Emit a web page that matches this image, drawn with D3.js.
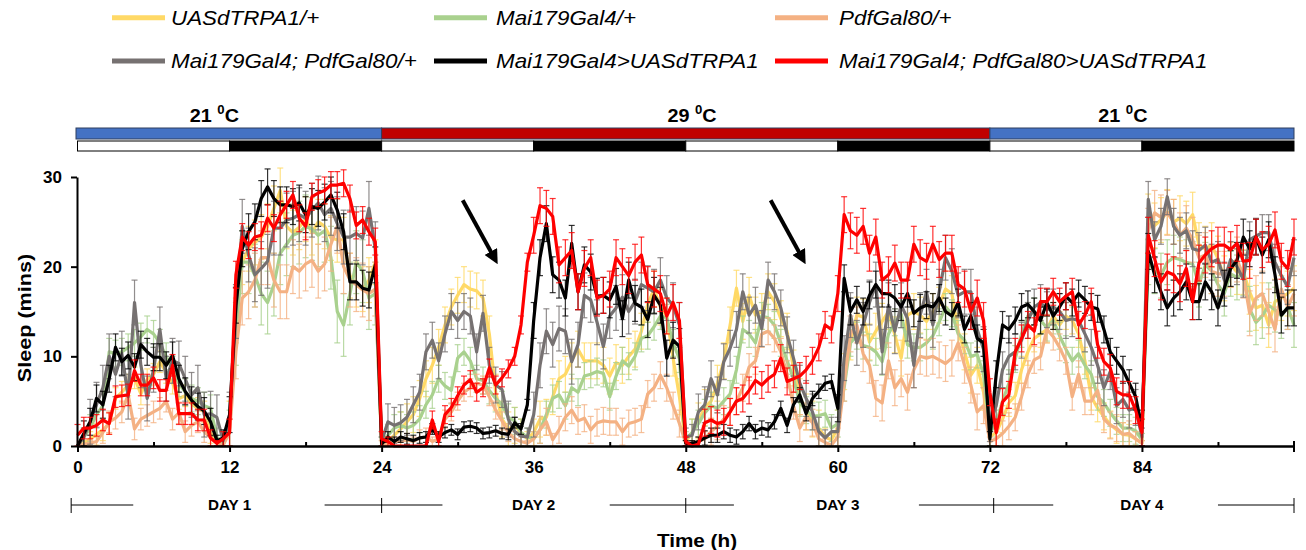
<!DOCTYPE html>
<html><head><meta charset="utf-8">
<script src="https://cdn.jsdelivr.net/npm/d3@7"></script>
<style>
body{margin:0;background:#fff}
svg{display:block}
text{font-family:"Liberation Sans",Arial,sans-serif;fill:#000}
</style>
</head><body>
<svg id="c" width="1306" height="550"></svg>
<script>
// ---------- DATA (sleep in minutes per 30-min bin, t = 0 .. 96 h) ----------
const timeStepH = 0.5;
const seriesNames = ["UASdTRPA1/+","Mai179Gal4/+","PdfGal80/+","Mai179Gal4; PdfGal80/+","Mai179Gal4>UASdTRPA1","Mai179Gal4; PdfGal80>UASdTRPA1"];
const seriesColors = ["#FFD966","#A9D18E","#F4B183","#767171","#000000","#FF0000"];

const uas = [
 0,0.3,0.8,1.3,1.8,2.5,5.3,6.0,6.8,7.6,5.8,7.4,8.0,9.4,8.2,7.0,5.3,5.6,4.7,4.2,3.8,1.5,0.3,0.1,
 2.5,14.0,20.5,22.0,22.7,23.3,24.5,26.5,28.5,24.5,23.8,24.4,25.3,23.8,25.0,24.5,23.2,23.0,23.0,19.0,18.0,17.5,18.5,20.5,
 0,0.5,1.2,1.9,2.7,3.5,5.3,7.5,9.0,11.0,13.5,15.5,16.8,18.0,17.5,17.3,16.5,12.5,6.0,3.0,1.9,2.3,1.5,0.8,
 1.5,3.0,3.2,5.5,7.5,8.0,9.5,10.8,9.5,9.5,9.5,9.0,7.8,9.3,9.0,10.0,10.8,12.8,15.8,17.5,15.5,14.5,9.8,5.5,
 0.5,1.5,2.8,4.3,5.0,7.0,9.5,13.5,17.6,13.9,16.8,14.6,15.0,17.2,16.1,14.2,12.8,8.7,5.5,3.8,3.0,2.0,1.0,0.7,
 2.0,8.3,11.6,14.6,14.4,11.6,12.8,13.9,15.0,12.4,9.8,14.6,15.0,14.6,13.9,15.0,15.7,17.5,17.0,12.8,10.5,7.9,9.0,6.0,
 1.0,1.5,3.0,4.8,5.6,8.5,10.5,12.0,12.5,13.0,14.5,13.5,14.5,14.0,12.5,9.5,5.5,4.2,3.3,2.4,1.8,1.3,1.2,0.8,
 0.3,25.6,24.6,25.2,26.1,25.0,25.4,24.8,25.8,22.4,22.0,22.4,20.9,18.7,20.2,19.4,19.4,17.2,15.4,15.7,13.5,16.1,16.5,17.0,17.6];

const mai = [
 0,1.0,2.0,3.5,4.5,10.5,10.3,10.5,11.0,11.5,12.2,13.0,12.5,11.5,10.0,8.5,7.0,6.0,5.3,5.0,4.5,4.2,1.0,0.3,
 2.0,12.5,20.5,20.5,19.0,17.0,16.0,18.0,21.5,22.5,23.5,23.8,24.5,24.2,23.5,24.0,21.0,15.0,13.5,17.0,20.5,19.5,16.5,17.0,
 0.5,1.2,2.0,2.3,2.0,2.3,3.0,4.6,5.7,7.5,6.7,6.2,9.8,10.5,9.5,7.5,7.3,6.2,5.3,4.6,3.2,2.8,1.5,1.0,
 0.8,1.8,3.5,5.3,5.7,4.5,6.5,6.0,7.8,8.0,8.3,8.1,5.5,7.8,9.5,8.9,10.0,12.0,12.3,13.3,14.5,14.3,11.5,9.7,
 0.8,1.5,2.5,3.7,4.5,4.2,5.0,5.8,8.5,13.0,12.5,11.5,14.5,14.3,13.5,11.5,9.5,7.5,4.8,4.0,3.3,3.4,3.6,2.0,
 2.5,6.5,11.5,12.3,11.2,11.0,10.5,9.4,12.5,13.8,14.7,11.3,11.0,11.0,11.5,12.3,13.8,15.5,14.8,12.5,11.8,10.0,10.2,8.0,
 1.5,2.5,5.0,7.0,9.7,12.5,14.5,15.0,14.0,13.2,14.0,12.3,10.8,9.5,10.3,9.0,8.0,5.5,4.8,3.7,2.8,2.0,2.0,1.7,
 0.7,20.5,19.5,19.0,20.5,21.0,20.8,20.5,20.3,18.0,20.2,19.5,18.0,17.0,19.2,18.8,19.3,15.3,13.8,14.5,15.7,15.2,14.5,15.5,13.5];

const pdf = [
 0,0.2,0.3,0.5,1.5,2.7,3.1,3.8,5.7,1.9,3.0,3.4,3.8,4.2,5.0,3.0,3.7,1.6,2.3,2.7,1.6,0.9,0.3,0.1,
 1.5,10.5,16.5,17.2,18.5,21.0,21.0,18.5,17.2,17.2,20.0,19.5,20.3,20.7,19.5,20.3,22.5,24.5,20.0,18.5,18.0,17.4,17.0,17.5,
 0.3,0.3,0.5,0.5,0.7,0.5,0.9,1.0,0.5,0.8,3.0,3.8,5.0,6.0,6.5,7.0,6.8,5.5,4.0,2.8,1.5,0.8,0.5,0.3,
 0.8,1.8,2.7,0.7,1.8,3.2,4.0,2.8,3.1,1.8,2.6,2.8,2.7,2.7,1.6,2.5,2.7,3.0,5.8,6.5,7.9,6.5,4.5,2.5,
 0.3,0.3,0.5,0.8,1.6,2.2,3.0,3.8,5.0,6.5,8.8,9.5,12.5,12.8,12.0,10.5,8.0,4.5,2.0,3.3,2.6,0.8,0.4,0.1,
 1.0,7.0,12.5,13.5,10.3,9.0,5.3,4.8,9.5,6.5,7.5,6.0,8.5,10.0,9.8,10.0,9.6,9.2,9.8,11.5,9.0,6.8,3.8,4.5,
 0.5,0.8,1.4,2.2,3.2,5.5,8.0,9.6,10.0,13.0,12.2,11.0,9.5,5.5,8.0,5.0,5.0,6.2,3.0,2.3,2.0,1.3,1.4,0.8,
 0.3,24.0,26.0,25.5,26.0,25.0,23.5,24.3,23.0,21.0,21.3,19.5,19.2,19.2,20.2,20.8,19.0,14.8,16.5,17.0,15.0,13.0,17.5,15.5,17.0];

const maiPdf = [
 0,1.0,2.7,4.6,6.5,10.0,8.0,10.3,5.5,16.0,9.0,5.3,8.5,13.0,7.5,9.5,9.2,7.5,5.7,6.5,3.5,3.6,3.2,0.6,
 3.0,15.0,24.5,21.3,19.1,19.8,20.6,24.3,24.3,25.2,25.4,25.8,25.4,26.3,27.1,25.8,26.5,24.8,23.3,23.3,23.7,23.2,26.5,22.0,
 0.5,2.7,2.3,2.6,3.2,4.6,6.0,10.5,11.8,9.5,12.5,15.0,14.0,15.0,14.5,10.5,14.8,9.0,6.8,6.3,3.0,1.6,1.1,1.0,
 3.5,9.0,12.8,11.3,13.1,12.8,9.4,11.3,16.8,16.3,13.8,11.1,14.5,15.4,16.6,15.0,16.1,18.0,17.6,17.2,18.5,16.5,15.7,13.5,
 1.0,1.2,3.8,4.6,7.5,5.7,9.4,10.9,13.0,17.2,14.6,15.7,13.1,18.5,17.2,15.4,12.4,9.8,7.0,5.3,3.8,1.6,0.9,1.6,
 1.6,9.8,14.6,11.5,13.5,16.0,18.0,10.5,15.7,12.8,15.7,14.2,9.0,14.6,17.2,13.5,17.2,21.0,19.5,16.8,17.2,17.2,13.0,10.8,
 2.5,4.5,8.5,10.0,10.5,11.8,14.0,15.5,16.0,15.2,15.5,15.0,14.0,14.2,14.0,12.5,11.0,9.0,6.5,8.3,4.5,5.2,4.0,4.3,
 1.0,27.5,23.0,24.5,27.8,24.5,23.5,24.0,22.0,21.8,22.4,20.5,20.8,18.5,20.8,20.0,18.6,23.0,23.4,23.8,23.8,20.5,19.0,17.8,21.0];

const maiTrpa = [
 0,1.4,2.7,5.3,4.6,7.5,11.0,9.4,10.1,8.8,11.3,10.5,9.9,9.9,9.0,10.1,7.5,6.1,5.1,4.4,3.9,2.7,0.6,0.9,
 3.5,15.7,22.0,23.9,25.0,27.6,28.9,27.6,26.9,26.9,26.7,27.1,25.8,26.7,26.5,27.2,28.0,26.3,23.9,18.3,18.3,17.6,17.4,20.2,
 0.2,1.0,0.5,1.0,0.8,0.6,0.9,1.0,1.9,1.0,1.5,1.8,1.3,2.1,2.2,2.0,1.4,1.5,1.7,1.4,1.3,2.6,1.9,4.6,
 14.0,21.0,24.8,19.1,18.5,16.5,22.6,17.2,20.2,19.4,16.7,16.8,16.3,17.8,14.2,18.5,15.9,15.5,14.1,16.8,15.7,9.8,11.8,11.1,
 0.3,0.3,0.5,0.9,1.2,1.2,1.6,1.2,1.0,1.6,2.5,1.6,2.0,1.8,2.7,4.2,2.3,4.6,5.7,3.6,5.3,6.1,7.0,7.2,
 4.2,18.7,15.0,16.3,15.0,16.8,18.0,17.0,17.0,16.5,15.5,17.0,14.8,15.4,15.7,15.5,16.5,15.0,14.5,16.0,13.0,14.5,12.0,11.5,
 0.8,8.0,13.5,13.0,14.0,15.5,15.8,15.0,14.0,16.0,14.5,15.5,16.7,16.0,17.0,16.3,15.5,15.3,13.0,10.5,9.5,8.5,7.0,5.5,
 2.0,21.7,19.1,17.2,15.4,16.5,17.2,18.3,16.1,16.1,18.3,17.2,15.4,17.6,19.8,20.7,23.3,22.0,23.3,21.3,23.0,19.1,14.6,15.4,15.4];

const maiPdfTrpa = [
 1.2,2.0,2.0,2.3,2.9,2.5,5.5,5.6,5.7,8.4,6.8,6.8,7.6,6.2,6.2,9.0,3.6,3.6,3.6,2.9,2.9,0.9,0.3,0.8,
 1.5,19.1,23.3,22.4,23.3,23.5,25.4,24.3,25.8,26.9,28.0,25.4,24.5,27.8,28.2,28.5,29.1,29.1,29.3,27.6,24.6,25.2,23.9,22.8,
 0.8,0.5,0,0,0,0,0,0,2.9,0.5,3.5,4.3,5.6,6.8,7.4,6.0,6.5,8.7,6.8,7.6,8.6,10.0,13.5,20.5,
 23.5,26.8,26.5,25.6,20.2,21.0,21.8,17.2,19.8,21.0,16.5,16.8,17.5,21.0,20.0,19.0,20.5,21.3,18.0,17.5,17.0,14.5,16.0,14.0,
 0.5,0,0.2,2.6,2.9,2.5,2.7,3.8,5.0,5.3,6.2,7.3,6.8,7.5,8.0,9.8,7.2,7.5,7.8,8.5,9.5,11.0,13.5,13.0,
 17.0,25.8,24.0,23.5,24.5,21.5,23.3,18.5,19.1,20.4,18.5,18.5,22.5,21.0,20.6,22.5,20.8,21.5,21.5,18.0,17.5,15.0,16.5,14.0,
 6.0,1.5,4.9,5.7,10.5,12.0,13.5,12.8,16.1,16.1,17.2,16.1,16.7,17.2,13.5,14.6,16.1,11.3,9.4,8.7,6.1,5.7,5.7,4.0,
 1.5,23.5,20.9,18.3,19.4,19.1,18.1,19.8,16.1,20.4,21.3,22.0,22.4,22.4,21.9,22.6,20.6,20.7,23.3,21.9,22.5,24.1,20.6,19.8,23.3];

// typical SEM per 12-h block
const semUas        = [1.2,2.5,2.0,2.0,2.0,2.0,1.5,2.5];
const semMai        = [1.5,3.5,1.5,1.5,1.5,1.5,1.5,2.5];
const semPdf        = [1.2,3.0,1.0,1.5,1.5,2.0,1.5,2.5];
const semMaiPdf     = [2.5,3.0,2.0,2.5,2.0,2.5,2.0,2.0];
const semMaiTrpa    = [1.5,2.0,0.6,2.0,0.8,1.5,1.5,2.0];
const semMaiPdfTrpa = [1.2,1.5,1.0,2.0,1.5,2.0,1.5,2.0];

const xTickValues = [0,12,24,36,48,60,72,84];
const xMinorTicks = [6,18,30,42,54,66,78,90];
const yTickValues = [0,10,20,30];
const dayLabels = ["DAY 1","DAY 2","DAY 3","DAY 4"];
const dayCenters = [12,36,60,84];
const tempBlocks = [{from:0,to:24,c:"#4472C4",label:"21"},{from:24,to:72,c:"#C00000",label:"29"},{from:72,to:96,c:"#4472C4",label:"21"}];
const tempLabelPos = [10.8,48.5,82.5];
const lightBlocks = [[0,12,"#fff"],[12,24,"#000"],[24,36,"#fff"],[36,48,"#000"],[48,60,"#fff"],[60,72,"#000"],[72,84,"#fff"],[84,96,"#000"]];
const arrows = [{t0:30.4,v0:27.4,t1:33.1,v1:20.4},{t0:54.7,v0:27.4,t1:57.4,v1:20.4}];

const series = [
 {vals:uas, sem:semUas},
 {vals:mai, sem:semMai},
 {vals:pdf, sem:semPdf},
 {vals:maiPdf, sem:semMaiPdf},
 {vals:maiTrpa, sem:semMaiTrpa},
 {vals:maiPdfTrpa, sem:semMaiPdfTrpa}
];

// ---------- DRAWING ----------
const svg = d3.select("#c");
const x = d3.scaleLinear().domain([0,96]).range([77.5,1294]);
const y = d3.scaleLinear().domain([0,30]).range([446,177]);

function addText(g, px, py, str, o={}){
  const t = g.append("text")
    .attr("transform", `translate(${px},${py})${o.rot?` rotate(${o.rot})`:""} scale(${o.sx||1.1},1)`)
    .attr("text-anchor", o.anchor||"start")
    .style("font-size", (o.size||16)+"px")
    .style("font-weight", o.weight||"normal")
    .style("font-style", o.style||"normal")
    .text(str);
  return t;
}

// legend
const legPos = [[112,171,17.7],[434,496,17.7],[775,839,17.7],[112,171,61],[434,496,61],[775,839,61]];
seriesNames.forEach((n,i)=>{
  const [lx,tx,ly]=legPos[i];
  svg.append("line").attr("x1",lx).attr("x2",lx+53).attr("y1",ly).attr("y2",ly)
    .attr("stroke",seriesColors[i]).attr("stroke-width",5);
  addText(svg, tx, ly+7, n, {size:20, style:"italic", sx:1.12});
});

// temperature bar
tempBlocks.forEach(b=>{
  svg.append("rect").attr("x",x(b.from)-(b.from===0?1.5:0)).attr("y",128).attr("width",x(b.to)-x(b.from)+(b.from===0?1.5:0)).attr("height",11)
    .attr("fill",b.c).attr("stroke","#2F3F5F").attr("stroke-width",1);
});
lightBlocks.forEach(b=>{
  svg.append("rect").attr("x",x(b[0])).attr("y",141).attr("width",x(b[1])-x(b[0])).attr("height",10)
    .attr("fill",b[2]).attr("stroke","#000").attr("stroke-width",1);
});
tempBlocks.forEach((b,i)=>{
  const t = addText(svg, x(tempLabelPos[i]), 122, "", {size:18, weight:"bold", anchor:"middle", sx:1.1});
  t.append("tspan").text(b.label+" ");
  t.append("tspan").attr("dy",-8).style("font-size","12px").text("0");
  t.append("tspan").attr("dy",8).text("C");
});

// series: error bars + lines
const line = d3.line().x((d,i)=>x(i*timeStepH)).y(d=>y(d));
series.forEach((s,si)=>{
  const g = svg.append("g");
  const eb = g.append("g").attr("stroke",seriesColors[si]).attr("stroke-width",1.2).attr("stroke-opacity",0.8);
  s.vals.forEach((v,i)=>{
    const e = Math.min(s.sem[Math.min(7,Math.floor(i/24))], v);
    if(e<0.3) return;
    const px = x(i*timeStepH), y0=y(v-e), y1=y(v+e);
    eb.append("line").attr("x1",px).attr("x2",px).attr("y1",y0).attr("y2",y1);
    eb.append("line").attr("x1",px-3).attr("x2",px+3).attr("y1",y1).attr("y2",y1);
    eb.append("line").attr("x1",px-3).attr("x2",px+3).attr("y1",y0).attr("y2",y0);
  });
  g.append("path").datum(s.vals).attr("d",line).attr("fill","none")
    .attr("stroke",seriesColors[si]).attr("stroke-width",3.2).attr("stroke-linejoin","round");
});

// axes
const yAxis = svg.append("g").attr("transform",`translate(${x(0)-0.5},0)`)
  .call(d3.axisLeft(y).tickValues(yTickValues).tickSize(6).tickSizeOuter(0).tickPadding(9).tickFormat(d3.format("d")));
yAxis.select(".domain").attr("stroke","#000").attr("stroke-width",2);
yAxis.selectAll(".tick line").attr("stroke-width",2);
yAxis.selectAll("text").style("font-size","17px").style("font-weight","bold").style("font-family","'Liberation Sans',Arial,sans-serif");

const xAxis = svg.append("g").attr("transform",`translate(0,${y(0)})`)
  .call(d3.axisBottom(x).tickValues(xTickValues).tickSize(6).tickSizeOuter(0).tickPadding(9));
xAxis.select(".domain").attr("stroke","#000").attr("stroke-width",2.5);
xAxis.selectAll(".tick line").attr("stroke-width",2);
xAxis.selectAll("text").style("font-size","17px").style("font-weight","bold").style("font-family","'Liberation Sans',Arial,sans-serif");
const xMinor = svg.append("g").attr("transform",`translate(0,${y(0)})`)
  .call(d3.axisBottom(x).tickValues(xMinorTicks).tickSize(-4).tickSizeOuter(0).tickFormat(""));
xMinor.select(".domain").remove();
xMinor.selectAll(".tick line").attr("stroke-width",2);
svg.append("line").attr("x1",x(96)).attr("x2",x(96)).attr("y1",y(0)-5).attr("y2",y(0)+6).attr("stroke","#000").attr("stroke-width",2);

// axis titles
addText(svg, 31, 318, "Sleep (mins)", {size:18, weight:"bold", anchor:"middle", rot:-90, sx:1.2});
addText(svg, 697, 547, "Time (h)", {size:18, weight:"bold", anchor:"middle", sx:1.15});

// day annotation lines
const dayY = 505;
const daySegs = [[-0.5,4.4],[19.5,28.8],[42.0,51.8],[66.4,77.0],[90.0,96]];
const dayTicks = [-0.5,24,48,72.3,96];
daySegs.forEach(s=>svg.append("line").attr("x1",x(s[0])).attr("x2",x(s[1])).attr("y1",dayY).attr("y2",dayY).attr("stroke","#000").attr("stroke-width",1));
dayTicks.forEach(t=>svg.append("line").attr("x1",x(t)).attr("x2",x(t)).attr("y1",dayY-7).attr("y2",dayY+8).attr("stroke","#000").attr("stroke-width",1));
dayLabels.forEach((d,i)=>addText(svg, x(dayCenters[i]), dayY+5, d, {size:14.5, weight:"bold", anchor:"middle", sx:1.05}));

// arrows
const defs = svg.append("defs");
defs.append("marker").attr("id","ah").attr("viewBox","0 0 10 10").attr("refX",6).attr("refY",5)
  .attr("markerWidth",3.6).attr("markerHeight",3.6).attr("orient","auto")
  .append("path").attr("d","M0,0 L10,5 L0,10 Z").attr("fill","#000");
arrows.forEach(a=>{
  svg.append("line").attr("x1",x(a.t0)).attr("y1",y(a.v0)).attr("x2",x(a.t1)-2).attr("y2",y(a.v1)-4)
    .attr("stroke","#000").attr("stroke-width",4).attr("marker-end","url(#ah)");
});
</script>
</body></html>
